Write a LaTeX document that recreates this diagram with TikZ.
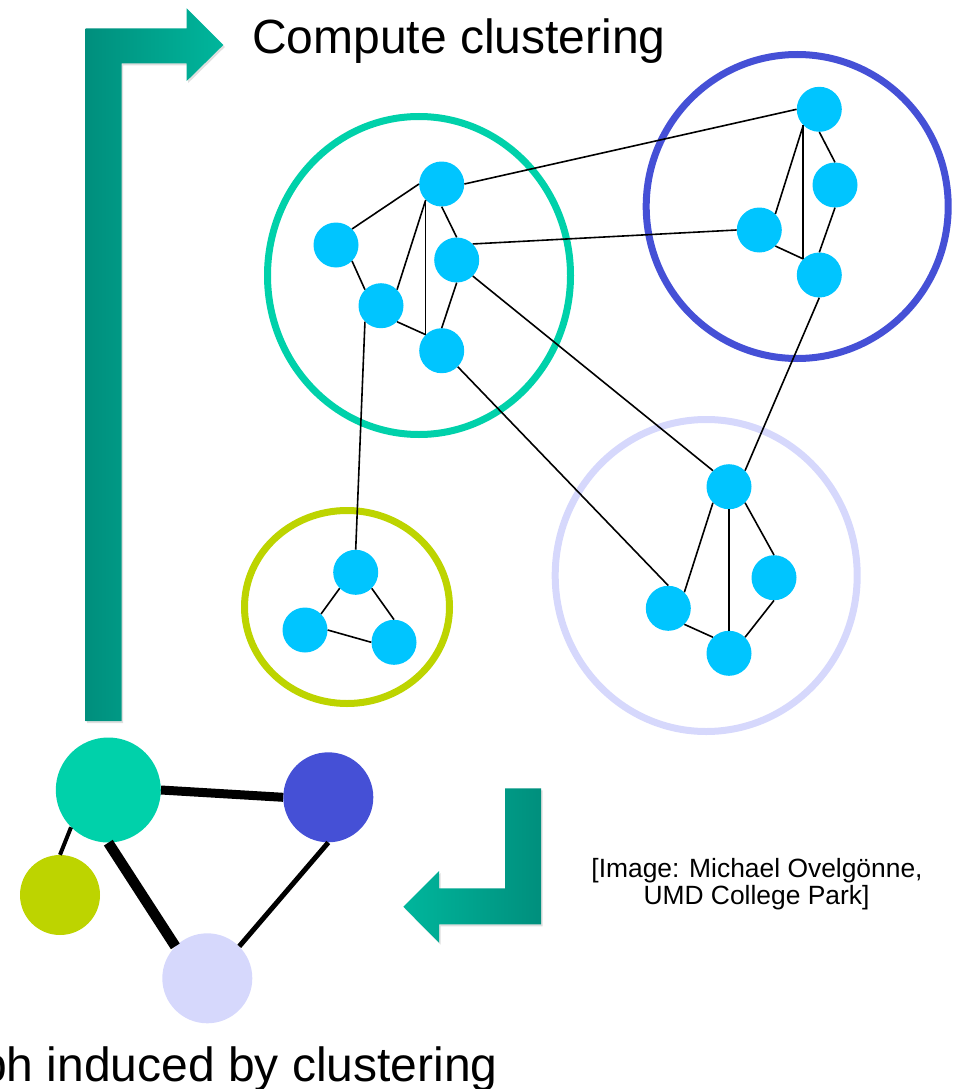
\documentclass[tikz,border=0pt]{standalone}
\usepackage{fontspec}
\setmainfont{Liberation Sans}
\usetikzlibrary{shadows}
\definecolor{nodecyan}{RGB}{0,197,255}
\definecolor{cgreen}{RGB}{0,209,170}
\definecolor{cblue}{RGB}{69,80,214}
\definecolor{clav}{RGB}{214,216,252}
\definecolor{cyel}{RGB}{189,212,0}
\definecolor{tealdark}{RGB}{0,143,125}
\definecolor{teallight}{RGB}{0,182,156}
\tikzset{
  vtx/.style={circle, fill=nodecyan, minimum size=45pt, inner sep=0pt},
  edge/.style={line width=1.6pt, black},
  cluster/.style={line width=7pt},
  bignode/.style={circle, inner sep=0pt},
  arrowshape/.style={drop shadow={shadow xshift=1.5pt, shadow yshift=-2pt, opacity=0.25}},
  bigtext/.style={inner sep=0pt, font=\fontsize{48pt}{57pt}\selectfont},
  credit/.style={inner sep=0pt, anchor=base, font=\fontsize{26.4pt}{28pt}\selectfont}
}
\begin{document}
\begin{tikzpicture}[x=1pt,y=-1pt]
\useasboundingbox (0,0) rectangle (957,1089);
\clip (0,0) rectangle (957,1089);

% arrows
\path[arrowshape, left color=tealdark, right color=teallight]
  (85.7,721) -- (85.7,28.3) -- (186.7,28.3) -- (186.7,8.3) -- (223.3,45)
  -- (186.7,81) -- (186.7,63.3) -- (121.7,63.3) -- (121.7,721) -- cycle;
\path[arrowshape, left color=teallight, right color=tealdark]
  (505,788.3) -- (541,788.3) -- (541,924.3) -- (439,924.3) -- (439,942.7)
  -- (403.3,906.7) -- (439,871) -- (439,888.3) -- (505,888.3) -- cycle;

% cluster circles
\draw[cluster, cgreen] (419,275.5) ellipse [x radius=151.5, y radius=159];
\draw[cluster, cblue] (797.2,206.5) ellipse [x radius=151, y radius=152];
\draw[cluster, clav] (706.2,575.5) ellipse [x radius=151, y radius=156];
\draw[cluster, cyel] (347,607) ellipse [x radius=102.5, y radius=96.5];

% vertices
\node[vtx] (gA) at (441.7,184) {};
\node[vtx] (gB) at (336,245) {};
\node[vtx] (gC) at (456.7,260) {};
\node[vtx] (gD) at (381,305.7) {};
\node[vtx] (gE) at (441.7,350.7) {};
\node[vtx] (bP) at (819.3,109.3) {};
\node[vtx] (bQ) at (835,185) {};
\node[vtx] (bR) at (759.3,230) {};
\node[vtx] (bS) at (819.3,275) {};
\node[vtx] (lT) at (729,486.7) {};
\node[vtx] (lU) at (774,577.7) {};
\node[vtx] (lV) at (668.3,608.3) {};
\node[vtx] (lW) at (729,653.3) {};
\node[vtx] (yX) at (355.7,572.3) {};
\node[vtx] (yY) at (305,630) {};
\node[vtx] (yZ) at (394,642.3) {};

% edges
\draw[edge] (gA.west) -- (gB.north east);
\draw[edge] (gA.south) -- (gC.north);
\draw[edge] (gA.south west) -- (gD.north east);
\draw[edge] (gA.south west) -- (gE.north west);
\draw[edge] (gB.south east) -- (gD.north west);
\draw[edge] (gD.south east) -- (gE.north west);
\draw[edge] (gC.south) -- (gE.north);
\draw[edge] (gC.north east) -- (bR.west);
\draw[edge] (gC.south east) -- (lT.north west);
\draw[edge] (gA.east) -- (bP.west);
\draw[edge] (gD.south west) -- (yX.north);
\draw[edge] (gE.south east) -- (lV.north);
\draw[edge] (bP.south) -- (bQ.north);
\draw[edge] (bP.south west) -- (bR.north east);
\draw[edge] (bP.south west) -- (bS.north west);
\draw[edge] (bR.south east) -- (bS.north west);
\draw[edge] (bQ.south) -- (bS.north);
\draw[edge] (bS.south) -- (lT.north east);
\draw[edge] (lT.south east) -- (lU.north);
\draw[edge] (lT.south west) -- (lV.north east);
\draw[edge] (lT.south) -- (lW.north);
\draw[edge] (lV.south east) -- (lW.north west);
\draw[edge] (lU.south) -- (lW.north east);
\draw[edge] (yX.south west) -- (yY.north east);
\draw[edge] (yX.south east) -- (yZ.north);
\draw[edge] (yY.east) -- (yZ.west);

% induced graph
\node[bignode, fill=cgreen, minimum size=105pt] (iG) at (108.3,790) {};
\node[bignode, fill=cblue, minimum size=90pt] (iB) at (328.3,797.3) {};
\node[bignode, fill=cyel, minimum size=80pt] (iY) at (60,895) {};
\node[bignode, fill=clav, minimum size=90pt] (iL) at (207.3,978.3) {};
\draw[line width=9pt] (iG.east) -- (iB.west);
\draw[line width=4pt] (iG.south west) -- (iY.north);
\draw[line width=10.5pt] (iG.south) -- (iL.north west);
\draw[line width=5pt] (iB.south) -- (iL.north east);

% texts
\node[bigtext, anchor=base west] (t1) at (252,53.5) {Compute clustering};
\node[bigtext, anchor=base east] (t2) at (498,1081.5) {Graph induced by clustering};
\node[credit] (c1) at (757,877.5) {[Image: Michael Ovelgönne,};
\node[credit] (c2) at (756.5,904.5) {UMD College Park]};
\end{tikzpicture}
\end{document}
